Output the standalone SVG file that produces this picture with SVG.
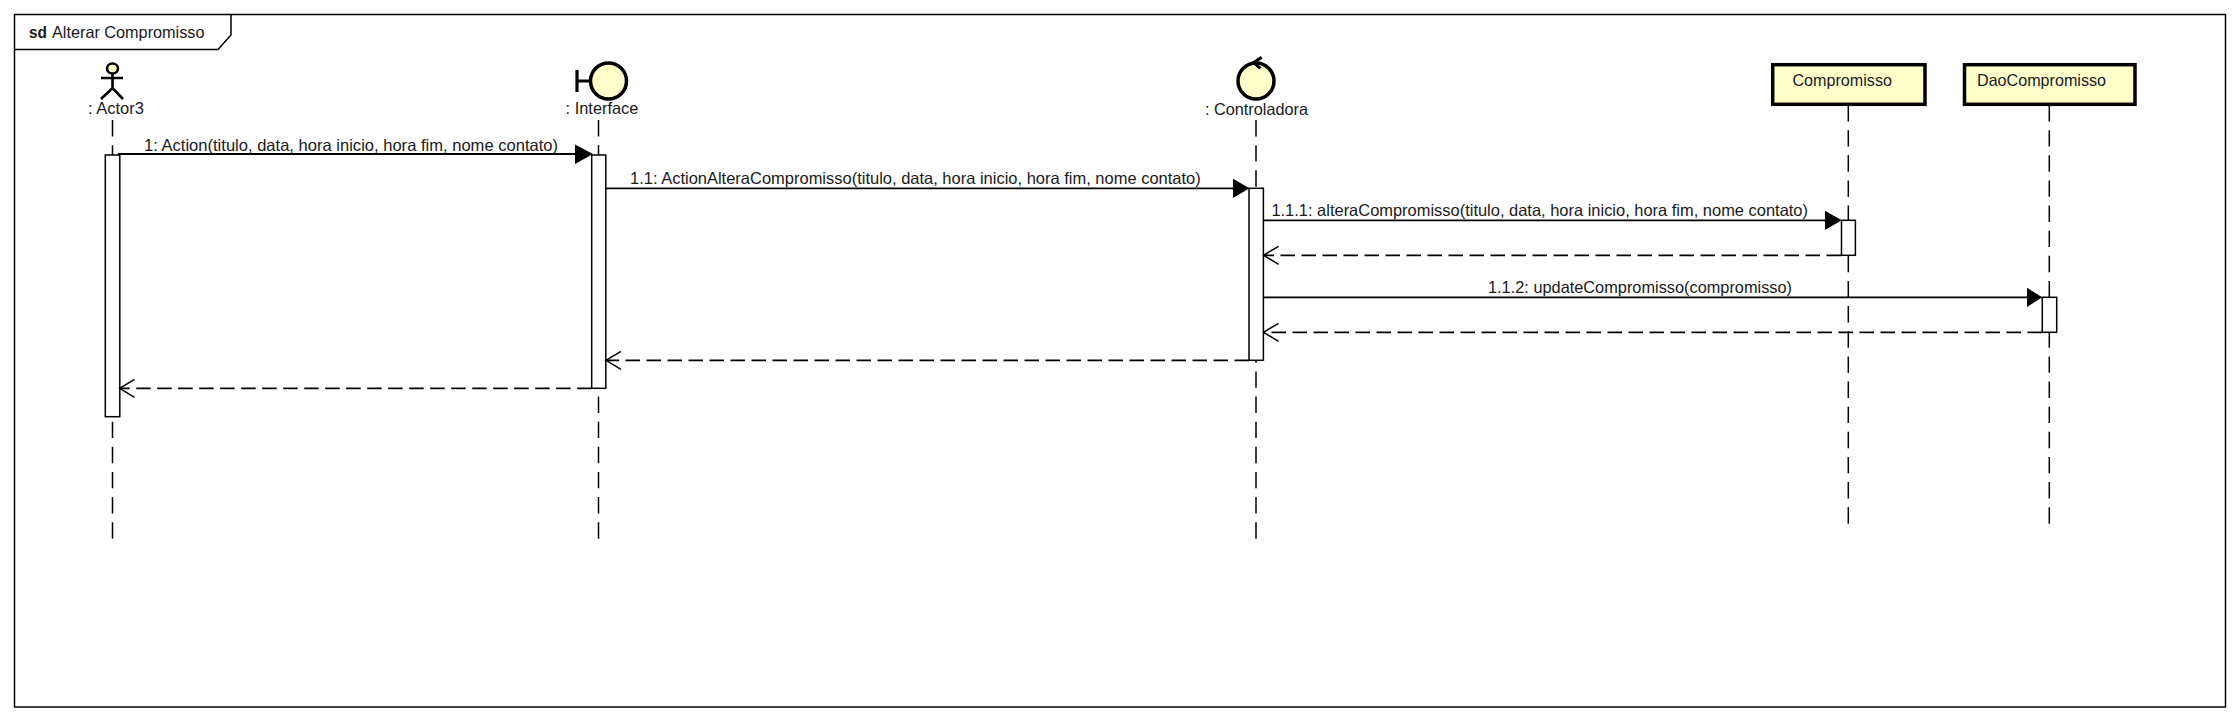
<svg xmlns="http://www.w3.org/2000/svg" width="2238" height="721" viewBox="0 0 2238 721">
<style>
text{font-family:"Liberation Sans",Arial,sans-serif;font-size:16.5px;fill:#1a1a1a}
.shape{fill:#ffffcc;stroke:#000;stroke-width:3.5}
.box{fill:#ffffcc;stroke:#000;stroke-width:3.5}
.line{fill:none;stroke:#000;stroke-width:2.2}
.life{fill:none;stroke:#000;stroke-width:1.5;stroke-dasharray:16.4 8.74}
.act{fill:#fff;stroke:#000;stroke-width:1.5}
.msg{fill:none;stroke:#000;stroke-width:1.8}
.ret{fill:none;stroke:#000;stroke-width:1.8;stroke-dasharray:14.5 6.5}
.open{fill:none;stroke:#000;stroke-width:1.5}
.head{fill:#000;stroke:none}
</style>
<rect width="2238" height="721" fill="#fff"/>
<g id="frame">
<rect x="14.500" y="14.500" width="2211" height="692.500" fill="#fff" stroke="#000" stroke-width="1.500"/>
<path d="M14.500 49.500H218L231 35V14.500" fill="none" stroke="#000" stroke-width="1.500"/>
<text x="29" y="38" font-weight="bold" textLength="18" lengthAdjust="spacingAndGlyphs">sd</text>
<text x="52" y="38" textLength="152.500" lengthAdjust="spacingAndGlyphs">Alterar Compromisso</text>
</g>
<g id="lifelines">
<path class="life" d="M112.500 120V539"/>
<path class="life" d="M598.500 120V539"/>
<path class="life" d="M1256 120V539"/>
<path class="life" d="M1848.300 105V526"/>
<path class="life" d="M2049.300 105V526"/>
</g>
<g id="actor3">
<ellipse cx="112.500" cy="68.500" rx="5.500" ry="5" class="shape" style="stroke-width:2.600"/>
<path class="line" d="M101 78H123M112.500 74V88M101 99L112.500 88L123 99" style="stroke-width:2.600"/>
<text x="88" y="114" textLength="56" lengthAdjust="spacingAndGlyphs">: Actor3</text>
</g>
<g id="interface">
<path class="line" d="M577 70V92M577 81H589" style="stroke-width:3.200"/>
<circle cx="608.500" cy="81" r="18" class="shape"/>
<text x="565.600" y="114" textLength="72.800" lengthAdjust="spacingAndGlyphs">: Interface</text>
</g>
<g id="controladora">
<circle cx="1256" cy="81" r="18" class="shape"/>
<path class="line" d="M1261.600 57.300L1253.600 62.700L1260.300 68.300" style="stroke-width:3"/>
<text x="1205" y="114.500" textLength="103" lengthAdjust="spacingAndGlyphs">: Controladora</text>
</g>
<g id="compromisso">
<rect x="1772.700" y="64.700" width="152.300" height="39.600" class="box"/>
<text x="1792.400" y="85.700" textLength="99.600" lengthAdjust="spacingAndGlyphs">Compromisso</text>
</g>
<g id="daocompromisso">
<rect x="1964.500" y="64.700" width="170.500" height="39.600" class="box"/>
<text x="1977" y="85.700" textLength="129" lengthAdjust="spacingAndGlyphs">DaoCompromisso</text>
</g>
<g id="activations">
<rect class="act" x="105.300" y="155" width="14.500" height="261.700"/>
<rect class="act" x="591.700" y="155" width="14.100" height="233.300"/>
<rect class="act" x="1249" y="188.300" width="14.400" height="172"/>
<rect class="act" x="1841.500" y="220.300" width="13.900" height="35"/>
<rect class="act" x="2042.300" y="297.300" width="14.400" height="35"/>
</g>
<g id="connectors">
<path class="msg" d="M118 154H577"/>
<path class="head" d="M575 144.500L593 154L575 164Z"/>
<text x="144" y="150.700" textLength="414" lengthAdjust="spacingAndGlyphs">1: Action(titulo, data, hora inicio, hora fim, nome contato)</text>
<path class="msg" d="M606 188.300H1235"/>
<path class="head" d="M1233 178.800L1249.500 188.300L1233 198Z"/>
<text x="630" y="184" textLength="570.700" lengthAdjust="spacingAndGlyphs">1.1: ActionAlteraCompromisso(titulo, data, hora inicio, hora fim, nome contato)</text>
<path class="msg" d="M1263.400 220.300H1827"/>
<path class="head" d="M1825 210.800L1841.700 220.300L1825 230Z"/>
<text x="1271.400" y="215.700" textLength="536.600" lengthAdjust="spacingAndGlyphs">1.1.1: alteraCompromisso(titulo, data, hora inicio, hora fim, nome contato)</text>
<path class="ret" d="M1841 255.300H1264"/>
<path class="open" d="M1278.600 246.300L1263.500 255.300L1278.600 264.300"/>
<path class="msg" d="M1263.400 297.300H2029"/>
<path class="head" d="M2027 287.800L2042.300 297.300L2027 307Z"/>
<text x="1488" y="292.700" textLength="304" lengthAdjust="spacingAndGlyphs">1.1.2: updateCompromisso(compromisso)</text>
<path class="ret" d="M2042 332.300H1264"/>
<path class="open" d="M1278.600 323.300L1263.500 332.300L1278.600 341.300"/>
<path class="ret" d="M1249 360.300H606"/>
<path class="open" d="M621 351.300L606 360.300L621 369.300"/>
<path class="ret" d="M591.700 388.300H120"/>
<path class="open" d="M134.500 379.300L119.800 388.300L134.500 397.300"/>
</g>
</svg>
